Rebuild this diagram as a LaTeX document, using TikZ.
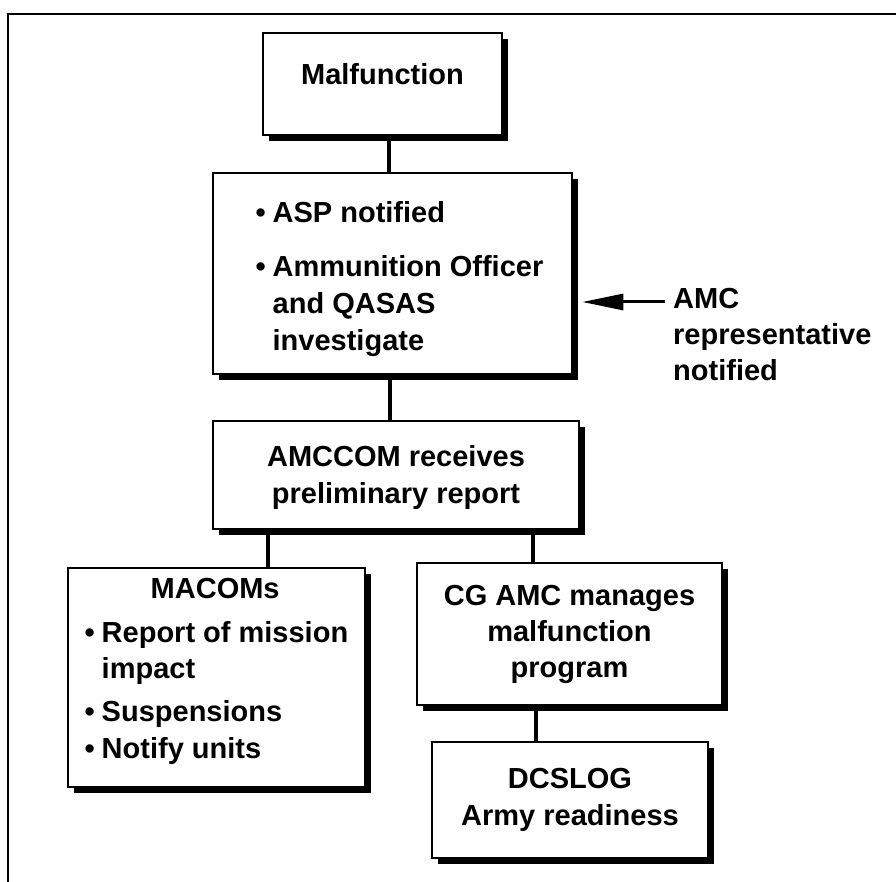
\documentclass[tikz,border=0pt]{standalone}
\usepackage{fontspec}
\setmainfont{Liberation Sans}
\usetikzlibrary{shadows,arrows.meta,calc}
\newcommand{\bul}{\makebox[17pt][l]{•}}
\begin{document}
\begin{tikzpicture}[x=1pt,y=-1pt,
  every node/.style={font=\fontsize{29}{36}\selectfont\bfseries},
  box/.style={draw, line width=2.6pt, fill=white, inner sep=0pt,
    drop shadow={shadow xshift=6pt, shadow yshift=-6pt, fill=black, opacity=1}},
  conn/.style={line width=3.4pt},
]
\useasboundingbox (0,0) rectangle (896,882);
\draw[line width=2.8pt] (896,14) -- (8,14) -- (8,882);

\node[box, minimum width=239pt, minimum height=102pt, text depth=20pt] (mal) at (382.5,84) {Malfunction};
\node[box, minimum width=359pt, minimum height=201pt, align=left, font=\fontsize{29}{37}\selectfont\bfseries] (asp) at (392.5,273.5)
  {\rule{0pt}{33pt}\hspace*{14pt}\bul ASP notified\\[17pt]\hspace*{14pt}\bul Ammunition Officer\\\hspace*{31pt}and QASAS\\\hspace*{31pt}investigate};
\node[box, minimum width=366pt, minimum height=108pt, align=center, font=\fontsize{29}{37}\selectfont\bfseries] (amccom) at (396,475)
  {\rule{0pt}{27pt}AMCCOM receives\\preliminary report};
\node[box, minimum width=297pt, minimum height=219pt, align=left] (macoms) at (216.5,677.5)
  {\hspace*{66pt}MACOMs\\[8pt]\bul Report of mission\\\hspace*{17pt}impact\\[7pt]\bul Suspensions\\[1pt]\bul Notify units\rule[-18pt]{0pt}{0pt}};
\node[box, minimum width=305pt, minimum height=142pt, align=center] (cgamc) at (569.5,634)
  {CG AMC manages\\malfunction\\program};
\node[box, minimum width=276pt, minimum height=116pt, align=center] (dcslog) at (570,800)
  {DCSLOG\\[1pt]Army readiness};
\node[anchor=north west, inner sep=0pt, align=left] (amc) at (673,288)
  {AMC\\representative\\notified};

\draw[conn] ([xshift=6.5pt]mal.south) -- ([xshift=6.5pt]mal.south |- asp.north);
\draw[conn] ([xshift=-2.5pt]asp.south) -- ([xshift=-2.5pt]asp.south |- amccom.north);
\draw[conn] ([xshift=-128pt]amccom.south) -- ([xshift=-128pt]amccom.south |- macoms.north);
\draw[conn] ([xshift=137pt]amccom.south) -- ([xshift=137pt]amccom.south |- cgamc.north);
\draw[conn] ([xshift=-33.5pt]cgamc.south) -- ([xshift=-33.5pt]cgamc.south |- dcslog.north);

\coordinate (arrowstart) at (665,302);
\draw[line width=3pt, -{Triangle[length=41pt,width=16pt]}] (arrowstart) -- ([xshift=9pt]asp.east |- arrowstart);
\end{tikzpicture}
\end{document}
